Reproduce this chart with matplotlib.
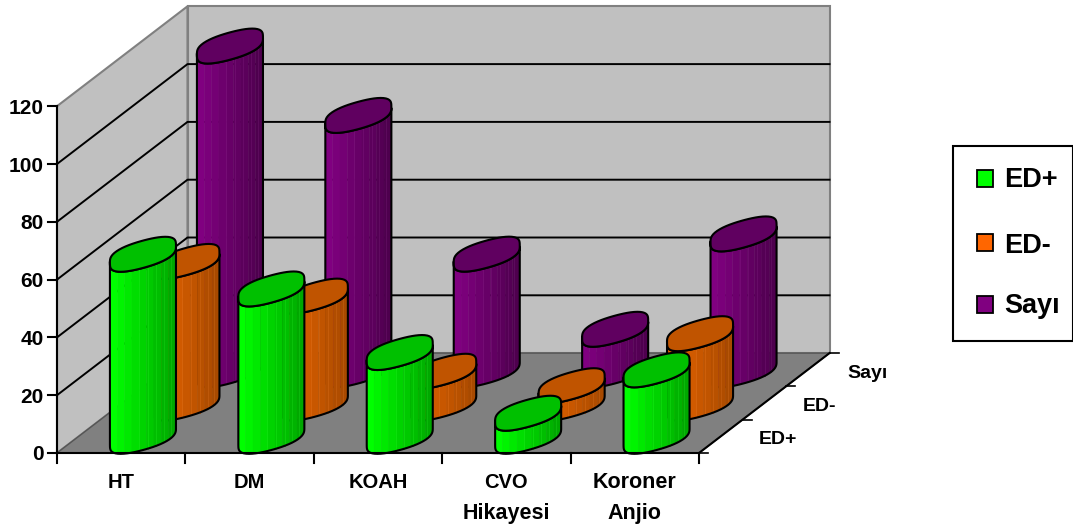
#!/usr/bin/env python3
"""3D cylinder chart of ED+ / ED- counts per comorbidity, drawn on a pixel-sized axes."""
import numpy as np
import matplotlib
matplotlib.use('Agg')
import matplotlib.pyplot as plt
from matplotlib.patches import Polygon, Rectangle

plt.rcParams['font.family'] = ['Liberation Sans', 'DejaVu Sans']
plt.rcParams['font.weight'] = 'bold'

categories = ['HT', 'DM', 'KOAH', 'CVO\nHikayesi', 'Koroner\nAnjio']
series_names = ['ED+', 'ED-', 'Sayı']
ed_plus = [63, 51, 29, 8, 23]
ed_minus = [49, 37, 11, 6, 24]
sayi = [112, 88, 40, 14, 47]
y_ticks = [0, 20, 40, 60, 80, 100, 120]

# (light side, dark side, top cap, legend swatch)
colors = {
    'ED+': ('#00ff00', '#00a800', '#00c000', '#00ff00'),
    'ED-': ('#e86400', '#a84a00', '#c05400', '#ff6600'),
    'Sayı': ('#800080', '#4e004e', '#600060', '#800080'),
}

# projection of the box
X0, Y0 = 57, 453
CAT_W = 128.4
DEPTH_DX, DEPTH_DY = 43.5, -33.3
Y_SCALE = 2.89


def project(cat, depth, val=0.0):
    return (X0 + cat * CAT_W + depth * DEPTH_DX,
            Y0 + depth * DEPTH_DY - val * Y_SCALE)


def ring(cat, depth, val, n=64):
    # lumpy circle on the floor plane, lifted to val: blunt tips, dented long sides
    t = np.linspace(0, 2 * np.pi, n, endpoint=False) + 0.02
    tip = 0.64
    r = 1 - 0.06 * np.cos(2 * (t - tip)) - 0.04 * np.cos(4 * (t - tip))
    x, y = project(cat + 0.23 * r * np.cos(t), depth + 0.5 * r * np.sin(t), val)
    return np.column_stack([x, y])


def draw_cylinder(ax, cat, depth, val, cols, z):
    light, dark, cap, _ = cols
    top = ring(cat, depth, val)
    bot = ring(cat, depth, 0)
    n = len(top)
    i_left, i_right = np.argmin(top[:, 0]), np.argmax(top[:, 0])
    # walk the near side of the ring, left to right
    idx = [i_left]
    while idx[-1] != i_right:
        idx.append((idx[-1] + 1) % n)
    lo = np.array(matplotlib.colors.to_rgb(light))
    hi = np.array(matplotlib.colors.to_rgb(dark))
    xl, xr = top[i_left, 0], top[i_right, 0]

    # body as vertical bands between the near-side outlines
    order = np.argsort(top[idx, 0])
    xs_top, ys_top = top[idx, 0][order], top[idx, 1][order]
    xs_bot, ys_bot = bot[idx, 0][order], bot[idx, 1][order]
    edges = np.linspace(xl, xr, 10)
    for k in range(9):
        seg = np.linspace(edges[k], edges[k + 1], 6)
        upper = np.column_stack([seg, np.interp(seg, xs_top, ys_top)])
        lower = np.column_stack([seg, np.interp(seg, xs_bot, ys_bot)])
        c = lo + (hi - lo) * k / 8
        ax.add_patch(Polygon(np.vstack([upper, lower[::-1]]), closed=True, fc=c, ec=c, lw=0.3, zorder=z))
    # faint facet seams on the right part of the body
    for frac in [0.44, 0.57, 0.70, 0.82, 0.92]:
        sx = xl + (xr - xl) * frac
        ya = np.interp(sx, xs_top, ys_top)
        yb = np.interp(sx, xs_bot, ys_bot)
        seam = np.minimum(lo + (hi - lo) * frac + 0.05, 1)
        ax.plot([sx, sx], [ya, yb], color=seam, lw=0.6, zorder=z + 0.1)
    # outline of the body, then the cap
    outline = np.vstack([top[idx], bot[idx][::-1]])
    ax.add_patch(Polygon(outline, closed=True, fc='none', ec='black', lw=1.5, joinstyle='round', zorder=z + 0.2))
    ax.add_patch(Polygon(top, closed=True, fc=cap, ec='black', lw=1.5, joinstyle='round', zorder=z + 0.3))


fig = plt.figure(figsize=(10.73, 5.27), dpi=100)
ax = fig.add_axes([0, 0, 1, 1])
ax.set_xlim(0, 1073)
ax.set_ylim(527, 0)
ax.axis('off')

n_cat = len(categories)
n_depth = len(series_names)
grey = '#808080'
wall_top = max(y_ticks)

# walls and floor
ax.add_patch(Polygon([project(0, 0), project(0, 0, wall_top), project(0, n_depth, wall_top), project(0, n_depth)],
                     closed=True, fc='#c0c0c0', ec=grey, lw=1.5, zorder=1))
ax.add_patch(Polygon([project(0, n_depth), project(0, n_depth, wall_top), project(n_cat, n_depth, wall_top), project(n_cat, n_depth)],
                     closed=True, fc='#c0c0c0', ec=grey, lw=1.5, zorder=1))
ax.add_patch(Polygon([project(0, 0), project(n_cat, 0), project(n_cat, n_depth), project(0, n_depth)],
                     closed=True, fc=grey, ec='#555555', lw=1.0, zorder=1.5))

# gridlines along both walls
for v in y_ticks[1:-1]:
    pts = [project(0, 0, v), project(0, n_depth, v), project(n_cat, n_depth, v)]
    ax.plot(*zip(*pts), color='black', lw=1.4, zorder=2)

# front axes
ax.plot(*zip(project(0, 0, wall_top), project(0, 0)), color='black', lw=1.5, zorder=3)
ax.plot(*zip(project(0, 0), project(n_cat, 0), project(n_cat, n_depth)), color='black', lw=1.5, zorder=30)
for v in y_ticks:
    x, y = project(0, 0, v)
    ax.plot([x - 9, x], [y, y], color='black', lw=1.5, zorder=3)
    ax.text(43.5, y, str(v), ha='right', va='center_baseline', fontsize=15, color='black')
for i in range(n_cat + 1):
    x, y = project(i, 0)
    ax.plot([x, x], [y, y + 10], color='black', lw=1.5, zorder=3)
for d in range(n_depth + 1):
    x, y = project(n_cat, d)
    ax.plot([x, x + 9], [y, y], color='black', lw=1.2, zorder=30)

# cylinders, back row first
values = [ed_plus, ed_minus, sayi]
for d in reversed(range(n_depth)):
    for i in range(n_cat):
        draw_cylinder(ax, i + 0.5, d + 0.5, values[d][i], colors[series_names[d]], 10 + (n_depth - d) * 3)

# category labels
for i, name in enumerate(categories):
    x, y = project(i + 0.5, 0)
    for j, part in enumerate(name.split('\n')):
        size = 15.5 if part in ('Koroner', 'Hikayesi', 'Anjio') else 14.5
        ax.text(x, 488 + j * 31, part, ha='center', va='baseline', fontsize=size, color='black')

# depth labels
depth_label_x = [778, 820, 868]
depth_label_y = [444, 411, 378]
for name, lx, ly in zip(series_names, depth_label_x, depth_label_y):
    ax.text(lx, ly, name, ha='center', va='baseline', fontsize=14, color='black')

# legend
ax.add_patch(Rectangle((953, 146), 119.5, 195, fc='white', ec='black', lw=1.5, zorder=5))
swatch_y = [178, 242, 304]
legend_y = [187, 253, 313]
for name, sy, ly in zip(series_names, swatch_y, legend_y):
    ax.add_patch(Rectangle((977, sy - 8.5), 16, 17, fc=colors[name][3], ec='black', lw=1.3, zorder=6))
    ax.text(1004, ly, name, ha='left', va='baseline', fontsize=19.5, color='black', zorder=6)

fig.savefig('out.png', dpi=100)
